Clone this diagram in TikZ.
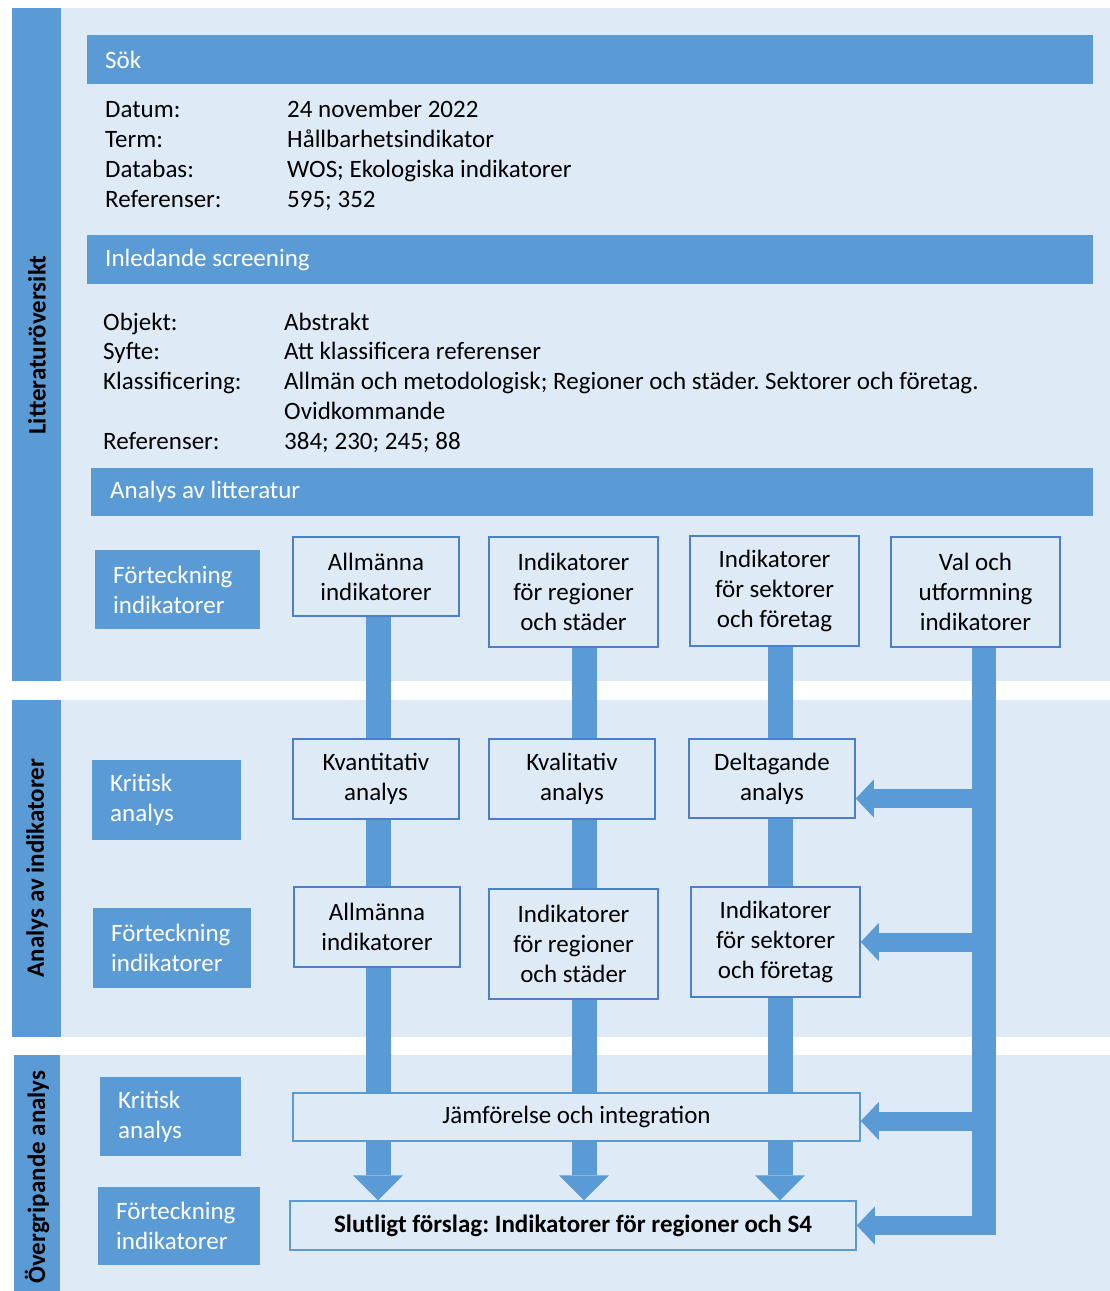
\documentclass[tikz,border=0pt]{standalone}
\usepackage{fontspec}
\setmainfont{Carlito}
\usetikzlibrary{arrows.meta,calc}
\definecolor{blueMain}{HTML}{5B9BD5}
\definecolor{blueLight}{HTML}{DEEBF7}
\definecolor{blueLine}{HTML}{4A7FCB}
\pgfdeclarelayer{panels}
\pgfdeclarelayer{links}
\pgfsetlayers{panels,links,main}

\begin{document}
\frenchspacing
\begin{tikzpicture}[x=1pt,y=-1pt,
  every node/.style={font=\fontsize{25}{30}\selectfont\frenchspacing, inner sep=0pt},
  bar/.style={fill=blueMain, text=white, anchor=north west, align=flush left, inner xsep=18pt},
  sidebox/.style={fill=blueMain, text=white, anchor=north west, align=flush left, inner xsep=18pt},
  stepbox/.style={draw=blueLine, line width=1.5pt, fill=blueLight, align=center, text=black},
  widebox/.style={draw=blueMain, line width=1.5pt, fill=blueLight, align=center, text=black},
  vlabel/.style={rotate=90, font=\fontsize{25}{30}\selectfont\bfseries},
  field/.style={anchor=base west},
  shaft/.style={draw=blueMain, line width=25pt, -{Triangle[width=50pt,length=25pt,line width=0pt]}},
  trunk/.style={draw=blueMain, line width=24pt},
  harrow/.style={draw=blueMain, line width=19pt, -{Triangle[width=38pt,length=18pt,line width=0pt]}}
]
\useasboundingbox (0,0) rectangle (1110,1291);

% section panels with their side strips
\begin{pgfonlayer}{panels}
  \fill[white] (0,0) rectangle (1110,1291);
  \fill[blueLight] (12,8) rectangle (1110,681);
  \fill[blueMain] (12,8) rectangle (61,681);
  \fill[blueLight] (12,700) rectangle (1110,1037);
  \fill[blueMain] (12,700) rectangle (61,1037);
  \fill[blueLight] (14,1055) rectangle (1110,1291);
  \fill[blueMain] (14,1055) rectangle (60,1291);
\end{pgfonlayer}

\node[vlabel] (p1) at (37,345) {Litteraturöversikt};
\node[vlabel] (p2) at (37,868) {Analys av indikatorer};
\node[vlabel] (p3) at (37,1177) {Övergripande analys};

% search block
\node[bar, text width=970pt, minimum height=49pt] (sok) at (87,35) {Sök};
\node[field] (d1) at (105,117) {Datum:};
\node[field] (d1v) at (287,117) {24 november 2022};
\node[field] (d2) at (105,147) {Term:};
\node[field] (d2v) at (287,147) {Hållbarhetsindikator};
\node[field] (d3) at (105,177) {Databas:};
\node[field] (d3v) at (287,177) {WOS; Ekologiska indikatorer};
\node[field] (d4) at (105,207) {Referenser:};
\node[field] (d4v) at (287,207) {595; 352};

% screening block
\node[bar, text width=970pt, minimum height=49pt] (scr) at (87,235) {Inledande screening};
\node[field] (e1) at (103,330) {Objekt:};
\node[field] (e1v) at (284,330) {Abstrakt};
\node[field] (e2) at (103,359) {Syfte:};
\node[field] (e2v) at (284,359) {Att klassificera referenser};
\node[field] (e3) at (103,389) {Klassificering:};
\node[field] (e3v) at (284,389) {Allmän och metodologisk; Regioner och städer. Sektorer och företag.};
\node[field] (e3w) at (284,419) {Ovidkommande};
\node[field] (e4) at (103,449) {Referenser:};
\node[field] (e4v) at (284,449) {384; 230; 245; 88};

\node[bar, inner xsep=19pt, text width=964pt, minimum height=48pt] (lit) at (91,468) {Analys av litteratur};

% side labels
\node[sidebox, text width=129pt, minimum height=79pt] (f1) at (95,550) {Förteckning\\indikatorer};
\node[sidebox, text width=113pt, minimum height=80pt] (k2) at (92,760) {Kritisk\\analys};
\node[sidebox, text width=122pt, minimum height=80pt] (f2) at (93,908) {Förteckning\\indikatorer};
\node[sidebox, text width=105pt, minimum height=79pt] (k3) at (100,1077) {Kritisk\\analys};
\node[sidebox, text width=126pt, minimum height=78pt] (f3) at (98,1187) {Förteckning\\indikatorer};

% process boxes
\node[stepbox, minimum width=166pt, minimum height=79pt] (a1) at (376,576.5) {Allmänna\\indikatorer};
\node[stepbox, minimum width=169pt, minimum height=110pt] (r1) at (573.5,592) {Indikatorer\\för regioner\\och städer};
\node[stepbox, minimum width=169pt, minimum height=110pt] (s1) at (774.5,591) {Indikatorer\\för sektorer\\och företag};
\node[stepbox, minimum width=169pt, minimum height=110pt] (val) at (975.5,592) {Val och\\utformning\\indikatorer};

\node[stepbox, minimum width=166pt, minimum height=80pt] (kvant) at (376,779) {Kvantitativ\\analys};
\node[stepbox, minimum width=166pt, minimum height=80pt] (kval) at (572,779) {Kvalitativ\\analys};
\node[stepbox, minimum width=166pt, minimum height=79pt] (delt) at (772,778.5) {Deltagande\\analys};

\node[stepbox, minimum width=166pt, minimum height=80pt] (a2) at (377,927) {Allmänna\\indikatorer};
\node[stepbox, minimum width=169pt, minimum height=110pt] (r2) at (573.5,944) {Indikatorer\\för regioner\\och städer};
\node[stepbox, minimum width=169pt, minimum height=110pt] (s2) at (775.5,942) {Indikatorer\\för sektorer\\och företag};

\node[widebox, minimum width=567pt, minimum height=48pt] (jam) at (576.5,1117) {Jämförelse och integration};
\node[widebox, minimum width=566pt, minimum height=49pt, font=\fontsize{25}{30}\selectfont\bfseries\frenchspacing] (slut) at (573,1225.5) {Slutligt förslag: Indikatorer för regioner och S4};

% column and trunk positions
\coordinate (c1) at (378,0);
\coordinate (c2) at (584,0);
\coordinate (c3) at (780,0);
\coordinate (tx) at (984,0);

\begin{pgfonlayer}{links}
  \draw[shaft] (c1 |- a1.south) -- (c1 |- slut.north);
  \draw[shaft] (c2 |- r1.south) -- (c2 |- slut.north);
  \draw[shaft] (c3 |- s1.south) -- (c3 |- slut.north);
  \draw[trunk] (tx |- val.south) -- ($(tx |- slut.east)+(0,9.5)$);
  \draw[harrow] ($(tx |- delt.east)+(0,20)$) -- ($(delt.east)+(0,20)$);
  \draw[harrow] (tx |- s2.east) -- (s2.east);
  \draw[harrow] ($(tx |- jam.east)+(0,4)$) -- ($(jam.east)+(0,4)$);
  \draw[harrow] ($(tx |- slut.east)+(12,0)$) -- (slut.east);
\end{pgfonlayer}
\end{tikzpicture}
\end{document}
